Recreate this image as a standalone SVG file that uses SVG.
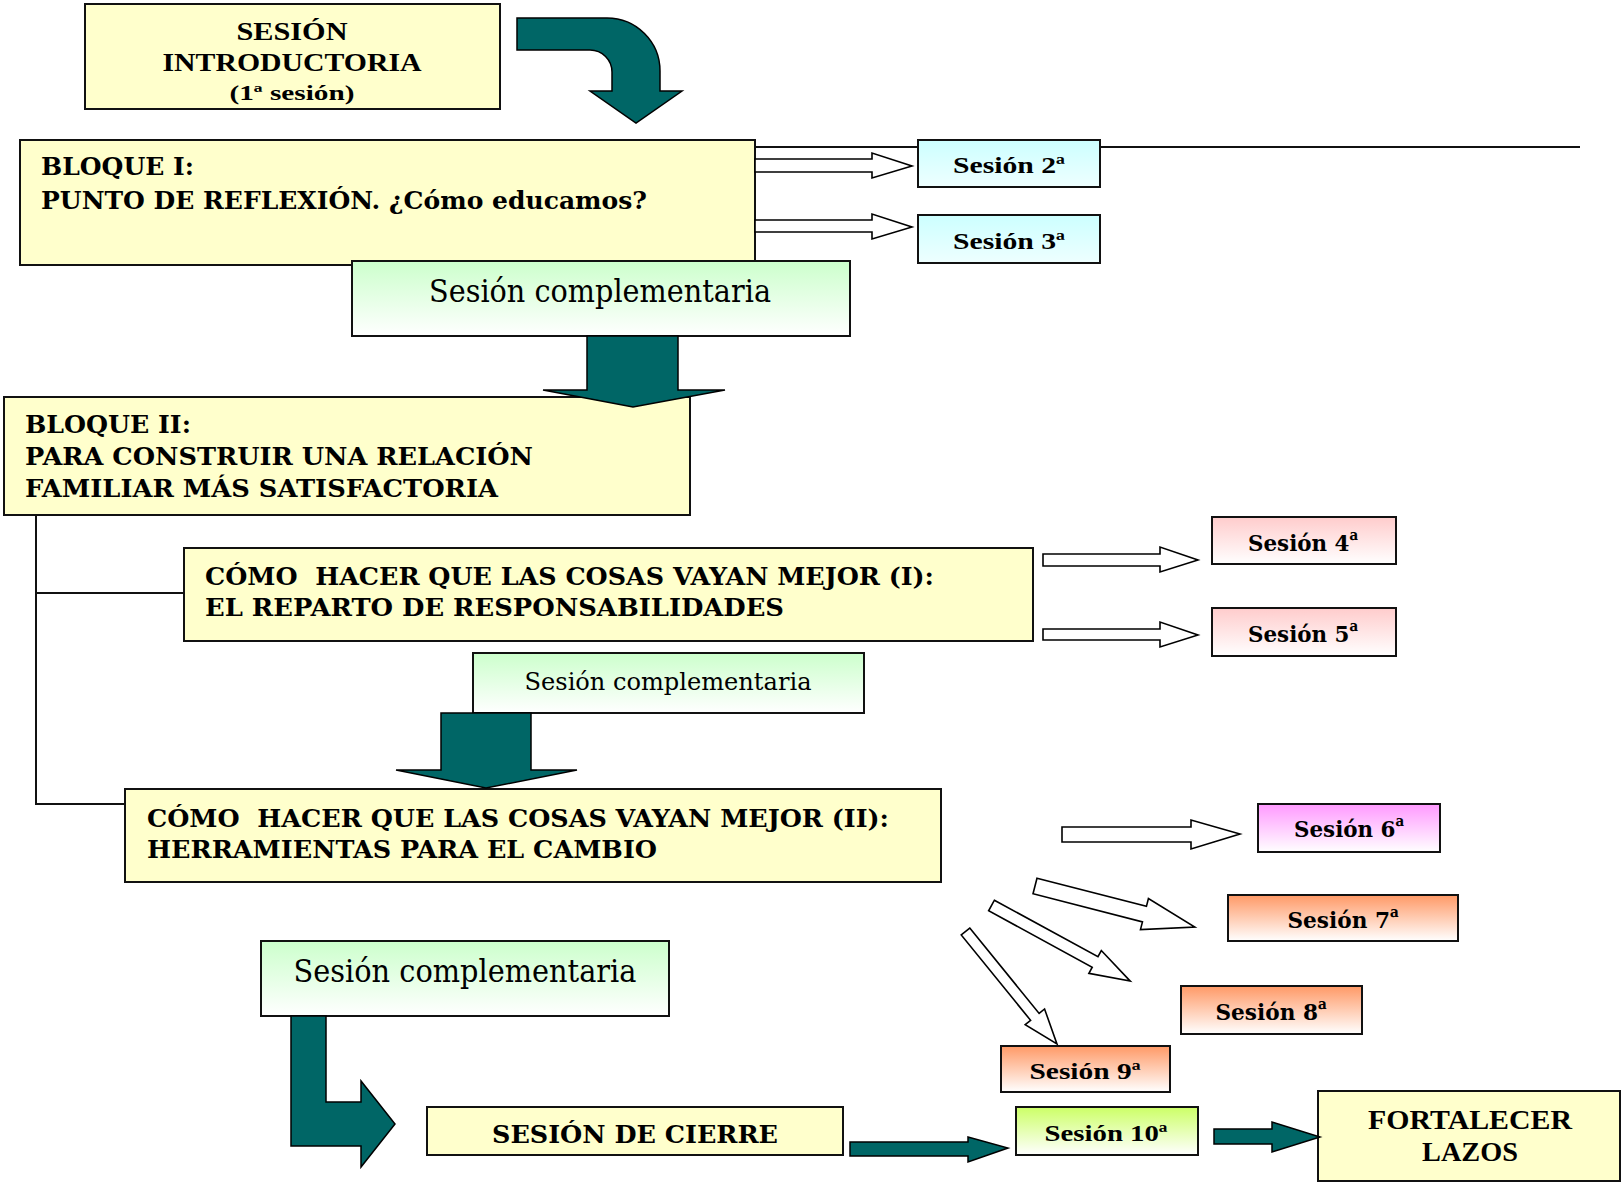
<svg xmlns="http://www.w3.org/2000/svg" width="1622" height="1183" viewBox="0 0 1622 1183">
<defs>
<linearGradient id="gGreen" x1="0" y1="0" x2="0" y2="1"><stop offset="0" stop-color="#ccffcc"/><stop offset="1" stop-color="#ffffff"/></linearGradient>
<linearGradient id="gCyan" x1="0" y1="0" x2="0" y2="1"><stop offset="0" stop-color="#ccffff"/><stop offset="1" stop-color="#eeffff"/></linearGradient>
<linearGradient id="gPink" x1="0" y1="0" x2="0" y2="1"><stop offset="0" stop-color="#ffcccc"/><stop offset="1" stop-color="#ffffff"/></linearGradient>
<linearGradient id="gMag" x1="0" y1="0" x2="0" y2="1"><stop offset="0" stop-color="#ff99ff"/><stop offset="1" stop-color="#ffffff"/></linearGradient>
<linearGradient id="gOrange" x1="0" y1="0" x2="0" y2="1"><stop offset="0" stop-color="#ff9966"/><stop offset="1" stop-color="#ffffff"/></linearGradient>
<linearGradient id="gLime" x1="0" y1="0" x2="0" y2="1"><stop offset="0" stop-color="#ccff66"/><stop offset="1" stop-color="#ffffff"/></linearGradient>
</defs>
<style>
.box{stroke:#111;stroke-width:2}
.y{fill:#ffffcc}
.teal{fill:#006666;stroke:#000;stroke-width:1.5;stroke-linejoin:miter}
.hollow{fill:#fff;stroke:#000;stroke-width:1.6}
.line{fill:none;stroke:#111;stroke-width:2}
.wb{font-family:"DejaVu Serif","Liberation Serif",serif;font-weight:bold;fill:#000}
.nb{font-family:"Liberation Serif","DejaVu Serif",serif;font-weight:bold;fill:#000}
.reg{font-family:"DejaVu Serif","Liberation Serif",serif;fill:#000}
.ord{font-family:"Liberation Serif",serif;font-weight:bold;font-size:29px}
</style>
<rect width="1622" height="1183" fill="#fff"/>

<g id="intro">
<rect class="box y" x="85" y="4" width="415" height="105"/>
<text class="nb" x="292" y="40" font-size="26" text-anchor="middle" textLength="111" lengthAdjust="spacingAndGlyphs">SESIÓN</text>
<text class="nb" x="292" y="71" font-size="26" text-anchor="middle" textLength="259" lengthAdjust="spacingAndGlyphs">INTRODUCTORIA</text>
<text class="nb" x="292" y="100" font-size="21" text-anchor="middle" textLength="125" lengthAdjust="spacingAndGlyphs">(1ª sesión)</text>
</g>

<g id="bloque1">
<rect class="box y" x="20" y="140" width="735" height="125"/>
<text class="wb" x="41" y="175" font-size="24" textLength="153" lengthAdjust="spacingAndGlyphs">BLOQUE I:</text>
<text class="wb" x="41" y="209" font-size="24" textLength="606" lengthAdjust="spacingAndGlyphs">PUNTO DE REFLEXIÓN. ¿Cómo educamos?</text>
</g>

<g id="s2">
<rect class="box" fill="url(#gCyan)" x="918" y="140" width="182" height="47"/>
<text class="nb" x="1009" y="173" font-size="23" text-anchor="middle" textLength="112" lengthAdjust="spacingAndGlyphs">Sesión 2ª</text>
</g>
<g id="s3">
<rect class="box" fill="url(#gCyan)" x="918" y="215" width="182" height="48"/>
<text class="nb" x="1009" y="249" font-size="23" text-anchor="middle" textLength="112" lengthAdjust="spacingAndGlyphs">Sesión 3ª</text>
</g>

<g id="comp1">
<rect class="box" fill="url(#gGreen)" x="352" y="261" width="498" height="75"/>
<text class="reg" x="600" y="302" font-size="31" text-anchor="middle" textLength="342" lengthAdjust="spacingAndGlyphs">Sesión complementaria</text>
</g>

<g id="bloque2">
<rect class="box y" x="4" y="397" width="686" height="118"/>
<text class="wb" x="25" y="433" font-size="24" textLength="166" lengthAdjust="spacingAndGlyphs">BLOQUE II:</text>
<text class="wb" x="25" y="465" font-size="24" textLength="508" lengthAdjust="spacingAndGlyphs">PARA CONSTRUIR UNA RELACIÓN</text>
<text class="wb" x="25" y="497" font-size="24" textLength="473" lengthAdjust="spacingAndGlyphs">FAMILIAR MÁS SATISFACTORIA</text>
</g>

<g id="como1">
<rect class="box y" x="184" y="548" width="849" height="93"/>
<text class="wb" x="205" y="585" font-size="24" textLength="729" lengthAdjust="spacingAndGlyphs" xml:space="preserve">CÓMO  HACER QUE LAS COSAS VAYAN MEJOR (I):</text>
<text class="wb" x="205" y="616" font-size="24" textLength="579" lengthAdjust="spacingAndGlyphs">EL REPARTO DE RESPONSABILIDADES</text>
</g>

<g id="s4">
<rect class="box" fill="url(#gPink)" x="1212" y="517" width="184" height="47"/>
<text class="wb" x="1303" y="551" font-size="22" text-anchor="middle" textLength="110" lengthAdjust="spacingAndGlyphs">Sesión 4<tspan class="ord">ª</tspan></text>
</g>
<g id="s5">
<rect class="box" fill="url(#gPink)" x="1212" y="608" width="184" height="48"/>
<text class="wb" x="1303" y="642" font-size="22" text-anchor="middle" textLength="110" lengthAdjust="spacingAndGlyphs">Sesión 5<tspan class="ord">ª</tspan></text>
</g>

<g id="comp2">
<rect class="box" fill="url(#gGreen)" x="473" y="653" width="391" height="60"/>
<text class="reg" x="668" y="690" font-size="25" text-anchor="middle" textLength="287" lengthAdjust="spacingAndGlyphs">Sesión complementaria</text>
</g>

<g id="como2">
<rect class="box y" x="125" y="789" width="816" height="93"/>
<text class="wb" x="147" y="827" font-size="24" textLength="742" lengthAdjust="spacingAndGlyphs" xml:space="preserve">CÓMO  HACER QUE LAS COSAS VAYAN MEJOR (II):</text>
<text class="wb" x="147" y="858" font-size="24" textLength="510" lengthAdjust="spacingAndGlyphs">HERRAMIENTAS PARA EL CAMBIO</text>
</g>

<g id="s6">
<rect class="box" fill="url(#gMag)" x="1258" y="804" width="182" height="48"/>
<text class="wb" x="1349" y="837" font-size="22" text-anchor="middle" textLength="110" lengthAdjust="spacingAndGlyphs">Sesión 6<tspan class="ord">ª</tspan></text>
</g>
<g id="s7">
<rect class="box" fill="url(#gOrange)" x="1228" y="895" width="230" height="46"/>
<text class="wb" x="1343" y="928" font-size="22" text-anchor="middle" textLength="111" lengthAdjust="spacingAndGlyphs">Sesión 7<tspan class="ord">ª</tspan></text>
</g>
<g id="s8">
<rect class="box" fill="url(#gOrange)" x="1181" y="986" width="181" height="48"/>
<text class="wb" x="1271" y="1020" font-size="22" text-anchor="middle" textLength="111" lengthAdjust="spacingAndGlyphs">Sesión 8<tspan class="ord">ª</tspan></text>
</g>
<g id="s9">
<rect class="box" fill="url(#gOrange)" x="1001" y="1046" width="169" height="46"/>
<text class="nb" x="1085" y="1079" font-size="23" text-anchor="middle" textLength="111" lengthAdjust="spacingAndGlyphs">Sesión 9ª</text>
</g>

<g id="comp3">
<rect class="box" fill="url(#gGreen)" x="261" y="941" width="408" height="75"/>
<text class="reg" x="465" y="982" font-size="31" text-anchor="middle" textLength="343" lengthAdjust="spacingAndGlyphs">Sesión complementaria</text>
</g>

<g id="cierre">
<rect class="box y" x="427" y="1107" width="416" height="48"/>
<text class="wb" x="635" y="1143" font-size="24" text-anchor="middle" textLength="286" lengthAdjust="spacingAndGlyphs">SESIÓN DE CIERRE</text>
</g>

<g id="s10">
<rect class="box" fill="url(#gLime)" x="1016" y="1107" width="182" height="48"/>
<text class="nb" x="1106" y="1141" font-size="23" text-anchor="middle" textLength="123" lengthAdjust="spacingAndGlyphs">Sesión 10ª</text>
</g>

<g id="fortalecer">
<rect class="box y" x="1318" y="1091" width="302" height="90"/>
<text class="nb" x="1470" y="1129" font-size="28" text-anchor="middle" textLength="204" lengthAdjust="spacingAndGlyphs">FORTALECER</text>
<text class="nb" x="1470" y="1161" font-size="28" text-anchor="middle" textLength="96" lengthAdjust="spacingAndGlyphs">LAZOS</text>
</g>

<g id="connectors">
<path class="line" d="M755,147 H918 M1100,147 H1580" stroke-width="2.5"/>
<path class="line" d="M36,515 V804 H125 M36,593 H184"/>
<polygon class="hollow" points="755,159 872,159 872,153 912,166 872,178 872,172 755,172"/>
<polygon class="hollow" points="755,220 872,220 872,214 912,227 872,239 872,232 755,232"/>
<polygon class="hollow" points="1043,554 1160,554 1160,547 1198,560 1160,572 1160,566 1043,566"/>
<polygon class="hollow" points="1043,629 1160,629 1160,622 1198,635 1160,647 1160,640 1043,640"/>
<polygon class="hollow" points="1062,827 1191,827 1191,820 1240,834 1191,849 1191,842 1062,842"/>
<g transform="translate(1035,886) rotate(14.4)"><polygon class="hollow" points="0,-8 113,-8 113,-16 165,0 113,16 113,8 0,8"/></g>
<g transform="translate(991.5,905.5) rotate(28.6)"><polygon class="hollow" points="0,-6 118,-6 118,-13 158,0 118,13 118,6 0,6"/></g>
<g transform="translate(965.5,931.5) rotate(50.9)"><polygon class="hollow" points="0,-5.5 110,-5.5 110,-12.5 145,0 110,12.5 110,5.5 0,5.5"/></g>
<path class="teal" d="M517,18 H607 A53,53 0 0 1 660,71 V91 H682 L636,123 L590,91 H612 V72 A22,22 0 0 0 590,50 H517 Z"/>
<polygon class="teal" points="587,336 678,336 678,390 725,390 633,407 543,390 587,390"/>
<polygon class="teal" points="441,713 531,713 531,770 577,770 486,788 396,770 441,770"/>
<polygon class="teal" points="291,1016 326,1016 326,1102 361,1102 361,1081 395,1124 361,1167 361,1146 291,1146"/>
<polygon class="teal" points="850,1142 968,1142 968,1137 1008,1148 968,1162 968,1156 850,1156"/>
<polygon class="teal" points="1214,1129 1272,1129 1272,1122 1320,1137 1272,1152 1272,1144 1214,1144"/>
</g>
</svg>
